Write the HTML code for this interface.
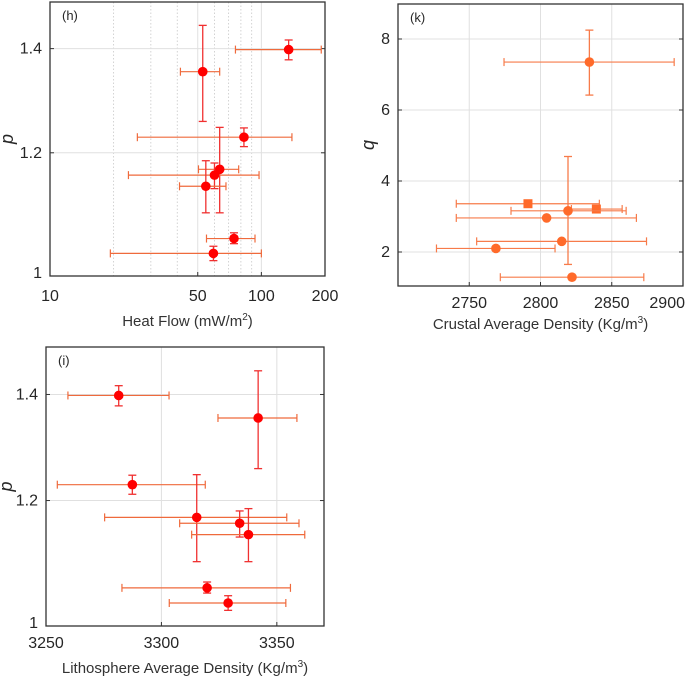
<!DOCTYPE html>
<html><head><meta charset="utf-8"><style>
html,body{margin:0;padding:0;background:#fff;}
svg{display:block;font-family:"Liberation Sans",sans-serif;}
</style></head><body>
<svg id="fig" width="685" height="680" viewBox="0 0 685 680" xmlns="http://www.w3.org/2000/svg"></svg>
<script>
// Panel h: Heat flow vs p (log-log)
const hX=[134.6,52.8,82.7,63.5,60.0,54.6,74.2,59.3];
const hXlo=[75.4,41.4,25.9,50.4,23.5,41.0,55.0,19.3];
const hXhi=[192,63.5,139.5,78.1,97.5,68.0,93.3,100];
const pY=[1.398,1.353,1.228,1.171,1.161,1.142,1.057,1.034];
const pYlo=[1.377,1.257,1.211,1.098,1.138,1.098,1.049,1.023];
const pYhi=[1.418,1.449,1.245,1.246,1.182,1.186,1.066,1.045];
// Panel i: lithosphere density (same p values)
const iX=[3281.5,3341.9,3287.4,3315.3,3333.9,3337.7,3319.8,3328.9];
const iXlo=[3259.5,3324.5,3254.9,3275.4,3307.9,3313.1,3282.9,3303.4];
const iXhi=[3303.3,3358.7,3319,3354.3,3359.6,3362.1,3355.9,3353.9];
// Panel k: crustal density vs q
const kX=[2834.3,2791.2,2839.2,2819.3,2804.3,2814.9,2768.7,2822.1];
const kXlo=[2774.4,2740.9,2821.7,2779.3,2740.9,2755.2,2727,2771.8];
const kXhi=[2893.8,2841.3,2857.3,2860.1,2867.3,2874.4,2810.2,2872.5];
const kY=[7.35,3.36,3.21,3.16,2.96,2.30,2.10,1.29];
const kYlo=[6.42,3.36,3.21,1.65,2.96,2.30,2.10,1.29];
const kYhi=[8.25,3.36,3.21,4.69,2.96,2.30,2.10,1.29];
const kShape=['c','s','s','c','c','c','c','c'];
const hXticks=[10,50,100,200];
const hMinor=[20,30,40,60,70,80,90];
const pTicks=[1,1.2,1.4];
const iXticks=[3250,3300,3350];
const kXticks=[2750,2800,2850,2900];
const kYticks=[2,4,6,8];

const NS='http://www.w3.org/2000/svg';
const svg=document.getElementById('fig');
function el(tag,attrs,parent){const e=document.createElementNS(NS,tag);for(const k in attrs)e.setAttribute(k,attrs[k]);(parent||svg).appendChild(e);return e;}
function txt(s,x,y,opt,parent){const t=el('text',Object.assign({x:x,y:y,'font-size':16,fill:'#262626','text-anchor':'middle'},opt||{}),parent);t.textContent=s;return t;}
function linS(d0,d1,p0,p1){return v=>p0+(v-d0)/(d1-d0)*(p1-p0);}
function logS(d0,d1,p0,p1){return v=>p0+(Math.log10(v)-Math.log10(d0))/(Math.log10(d1)-Math.log10(d0))*(p1-p0);}

function panel(name,box,sx,sy,xt,yt,minor,xlab,ylab,tag,tickY,labY,ylabX){
  const g=el('g',{});
  
  
  const [L,T,R,B]=box;
  el('rect',{x:L,y:T,width:R-L,height:B-T,fill:'#fff'},g);
  minor.forEach(v=>{const l=el('line',{x1:sx(v),x2:sx(v),y1:T,y2:B,stroke:'#c8c8c8','stroke-width':0.8,'stroke-dasharray':'1.5,2'},g);
    });
  xt.forEach(v=>{const x=sx(v);
    const gl=el('line',{x1:x,x2:x,y1:T,y2:B,stroke:'#e0e0e0','stroke-width':1},g);
    
    el('line',{x1:x,x2:x,y1:B,y2:B-4,stroke:'#333'},g);
    let anchor='middle';if(x>R-2&&v===2900)anchor='end';
    const t=txt(String(v),anchor==='end'?R+2:x,tickY,{'text-anchor':anchor},g);
    });
  yt.forEach(v=>{const y=sy(v);
    const gl=el('line',{x1:L,x2:R,y1:y,y2:y,stroke:'#e0e0e0','stroke-width':1},g);
    
    el('line',{x1:L,x2:L+4,y1:y,y2:y,stroke:'#333'},g);
    el('line',{x1:R,x2:R-4,y1:y,y2:y,stroke:'#333'},g);
    const t=txt(String(v),L-8,y+(v===1?2:5),{'text-anchor':'end'},g);
    });
  const f=el('rect',{x:L,y:T,width:R-L,height:B-T,fill:'none',stroke:'#333','stroke-width':1.3},g);
  
  const tg=txt(tag,L+12,T+18,{'font-size':13,'text-anchor':'start'},g);
  
  const xl=el('text',{x:(L+R)/2,y:labY,'font-size':15,fill:'#333','text-anchor':'middle'},g);
  xl.innerHTML=xlab;
  
  const yl=txt(ylab,ylabX,(T+B)/2,{'font-size':18,'font-style':'italic',transform:`rotate(-90 ${ylabX} ${(T+B)/2})`},g);
  
  return g;
}
function errbar(g,x,y,x0,x1,y0,y1,cx,cy,cm,shape){
  const p=el('g',{},g);
  
  
  el('line',{x1:x0,x2:x1,y1:y,y2:y,stroke:cx,'stroke-width':1.2},p);
  el('line',{x1:x0,x2:x0,y1:y-4,y2:y+4,stroke:cx,'stroke-width':1.2},p);
  el('line',{x1:x1,x2:x1,y1:y-4,y2:y+4,stroke:cx,'stroke-width':1.2},p);
  if(Math.abs(y1-y0)>1){
    el('line',{x1:x,x2:x,y1:y0,y2:y1,stroke:cy,'stroke-width':1.3},p);
    el('line',{x1:x-4,x2:x+4,y1:y0,y2:y0,stroke:cy,'stroke-width':1.3},p);
    el('line',{x1:x-4,x2:x+4,y1:y1,y2:y1,stroke:cy,'stroke-width':1.3},p);
  }
  if(shape==='s') el('rect',{x:x-4.5,y:y-4.5,width:9,height:9,fill:cm},p);
  else el('circle',{cx:x,cy:y,r:4.8,fill:cm},p);
}
// Panel h
{const box=[50,2,325,276];
 const sx=logS(10,200,box[0],box[2]), sy=logS(1,1.5,box[3],box[1]);
 const g=panel('panel-h-heat-flow',box,sx,sy,hXticks,pTicks,hMinor,'Heat Flow (mW/m<tspan font-size="10" dy="-6">2</tspan><tspan dy="6">)</tspan>','p','(h)',301,326,13);
 for(let i=0;i<hX.length;i++) errbar(g,sx(hX[i]),sy(pY[i]),sx(hXlo[i]),sx(hXhi[i]),sy(pYlo[i]),sy(pYhi[i]),'#ef6a3c','#f03030','#ff0000','c');}
// Panel k
{const box=[398,4,683,286];
 const sx=linS(2700,2900,box[0],box[2]), sy=linS(1,9,287.5,3.5);
 const g=panel('panel-k-crustal-density',box,sx,sy,kXticks,kYticks,[],'Crustal Average Density (Kg/m<tspan font-size="10" dy="-6">3</tspan><tspan dy="6">)</tspan>','q','(k)',308,329,374);
 for(let i=0;i<kX.length;i++) errbar(g,sx(kX[i]),sy(kY[i]),sx(kXlo[i]),sx(kXhi[i]),sy(kYlo[i]),sy(kYhi[i]),'#f77b4a','#f77b4a','#ff6a2a',kShape[i]);}
// Panel i
{const box=[46,347,324,626];
 const sx=linS(3250,3370,box[0],323), sy=logS(1,1.5,box[3],box[1]);
 const g=panel('panel-i-lithosphere-density',box,sx,sy,iXticks,pTicks,[],'Lithosphere Average Density (Kg/m<tspan font-size="10" dy="-6">3</tspan><tspan dy="6">)</tspan>','p','(i)',648,673,12);
 for(let i=0;i<iX.length;i++) errbar(g,sx(iX[i]),sy(pY[i]),sx(iXlo[i]),sx(iXhi[i]),sy(pYlo[i]),sy(pYhi[i]),'#ef6a3c','#f03030','#ff0000','c');}
</script>
</body></html>
